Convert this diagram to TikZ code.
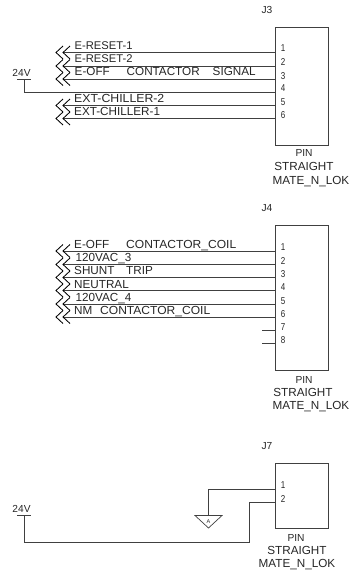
\documentclass[tikz,border=0pt]{standalone}
\usepackage{fontspec}
\setmainfont{Liberation Sans}
\tikzset{
  wire/.style={draw=black!75,line width=0.9pt},
  boxs/.style={draw=black!75,line width=0.9pt,fill=white,inner sep=0pt,minimum width=53.5pt,anchor=north west},
  lbl/.style={font=\fontsize{11.7}{12}\selectfont,inner sep=0pt,anchor=base west,text=black!85},
  ctr/.style={font=\fontsize{11.7}{12}\selectfont,inner sep=0pt,anchor=base,text=black!85},
  smallc/.style={font=\fontsize{10.2}{11}\selectfont,inner sep=0pt,anchor=base,text=black!85},
  pinn/.style={font=\fontsize{10}{11}\selectfont,inner sep=0pt,anchor=base,text=black!85,xscale=0.8},
  chev/.style={draw=black,line width=0.85pt},
  grnd/.style={draw=black!75,line width=0.7pt}
}
\newcommand{\dblchev}[1]{%
  \draw[chev] (70,#1-6.5) -- (63,#1) -- (70,#1+6.5);
  \draw[chev] (63,#1-6.5) -- (56,#1) -- (63,#1+6.5);
}
\begin{document}
\begin{tikzpicture}[x=1pt,y=-1pt]
\useasboundingbox (0,0) rectangle (360,579);
% J3
\node[boxs,minimum height=118.5pt] (boxa) at (274.5,26.5) {};
\node[smallc] (ja) at (267,13) {J3};
\foreach \y/\p/\b in {52.5/1/51.5,66/2/65,79/3/79,92/4/91.5,105.5/5/105,118.5/6/118.5}{
  \coordinate (a\p) at (274.5,\y);
  \node[pinn] (ap\p) at (283,\b) {\p};
}
\foreach \p/\y in {1/52.5,2/66,3/79,5/105.5,6/118.5}{
  \coordinate (ae\p) at (63,\y);
  \draw[wire] (ae\p) -- (a\p);
  \dblchev{\y}
}
\node[smallc] (va) at (21.5,76) {24V};
\coordinate (vat) at (24,79.5);
\coordinate (vac) at (24,92);
\draw[wire] (vat) -- (vac) -- (a4);
\draw[wire] (17,79.5) -- (31,79.5);
\node[lbl,font=\fontsize{11.2}{12}\selectfont] (l1) at (74.5,49) {E-RESET-1};
\node[lbl,font=\fontsize{11.2}{12}\selectfont] (l2) at (74.5,62.5) {E-RESET-2};
\node[lbl] (l3) at (74.5,75.5) {E-OFF};
\node[lbl] (l3b) at (126.5,75.5) {CONTACTOR};
\node[lbl] (l3c) at (212.5,75.5) {SIGNAL};
\node[lbl,xscale=1.05] (l5) at (74,102) {EXT-CHILLER-2};
\node[lbl] (l6) at (74,115.5) {EXT-CHILLER-1};
\node[smallc] (pa) at (304,156) {PIN};
\node[ctr] (sa) at (304,170) {STRAIGHT};
\node[ctr] (ma) at (311,184) {MATE\_N\_LOK};
% J4
\node[boxs,minimum height=145.5pt] (boxb) at (274.5,224.5) {};
\node[smallc] (jb) at (267,211.5) {J4};
\foreach \y/\p/\b in {251/1/250.5,264.5/2/264,277.5/3/277,290.5/4/290,304/5/304,317/6/317,330.5/7/330,343.5/8/343}{
  \coordinate (b\p) at (274.5,\y);
  \node[pinn] (bp\p) at (283,\b) {\p};
}
\foreach \p/\y in {1/251,2/264.5,3/277.5,4/290.5,5/304,6/317}{
  \coordinate (be\p) at (63,\y);
  \draw[wire] (be\p) -- (b\p);
  \dblchev{\y}
}
\coordinate (s7) at (262,330.5);
\coordinate (s8) at (262,343.5);
\draw[wire] (s7) -- (b7);
\draw[wire] (s8) -- (b8);
\node[lbl] (m1) at (74,248) {E-OFF};
\node[lbl,xscale=1.03] (m1b) at (126,248) {CONTACTOR\_COIL};
\node[lbl] (m2) at (75.5,261) {120VAC\_3};
\node[lbl] (m3) at (74,274) {SHUNT};
\node[lbl] (m3b) at (126,274) {TRIP};
\node[lbl] (m4) at (74,288) {NEUTRAL};
\node[lbl] (m5) at (75.5,301) {120VAC\_4};
\node[lbl] (m6) at (74,314) {NM};
\node[lbl,xscale=1.03] (m6b) at (100,314) {CONTACTOR\_COIL};
\node[smallc] (pb) at (304,383) {PIN};
\node[ctr] (sb) at (303,396) {STRAIGHT};
\node[ctr] (mb) at (311,409) {MATE\_N\_LOK};
% J7
\node[boxs,minimum height=65.5pt] (boxc) at (274.5,462.5) {};
\node[smallc] (jc) at (267,449) {J7};
\foreach \y/\p/\b in {489/1/488.5,502/2/502}{
  \coordinate (c\p) at (274.5,\y);
  \node[pinn] (cp\p) at (283,\b) {\p};
}
\coordinate (gt) at (208.5,515.5);
\coordinate (gc) at (208.5,489);
\draw[wire] (c1) -- (gc) -- (gt);
\draw[grnd] (195,515.5) -- (222,515.5) -- (208.5,528) -- cycle;
\node[font=\fontsize{5.5}{6}\selectfont,inner sep=0pt,anchor=base,text=black!85] (ga) at (208.5,523) {A};
\coordinate (vb) at (24,515.5);
\coordinate (vd) at (24,542);
\coordinate (ve) at (249,542);
\coordinate (vf) at (249,502);
\draw[wire] (c2) -- (vf) -- (ve) -- (vd) -- (vb);
\draw[wire] (17,515.5) -- (31,515.5);
\node[smallc] (vc) at (21.5,512) {24V};
\node[smallc] (pc) at (296,541) {PIN};
\node[ctr] (sc) at (297,554.5) {STRAIGHT};
\node[ctr] (mc) at (297,567.5) {MATE\_N\_LOK};
\end{tikzpicture}
\end{document}
